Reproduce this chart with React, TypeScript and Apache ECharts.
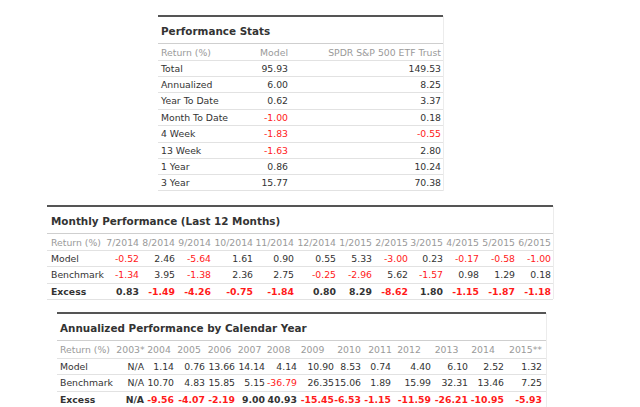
import React, { useEffect, useRef } from "react";
import * as echarts from "echarts";

// ---------- Data ----------
const statsTitle = "Performance Stats";
const statsHeader = ["Return (%)", "Model", "SPDR S&P 500 ETF Trust"];
const statsLabels = ["Total", "Annualized", "Year To Date", "Month To Date", "4 Week", "13 Week", "1 Year", "3 Year"];
const statsModel = [95.93, 6.0, 0.62, -1.0, -1.83, -1.63, 0.86, 15.77];
const statsSpdr = [149.53, 8.25, 3.37, 0.18, -0.55, 2.8, 10.24, 70.38];

const monthTitle = "Monthly Performance (Last 12 Months)";
const monthLabels = ["7/2014", "8/2014", "9/2014", "10/2014", "11/2014", "12/2014", "1/2015", "2/2015", "3/2015", "4/2015", "5/2015", "6/2015"];
const monthModel = [-0.52, 2.46, -5.64, 1.61, 0.9, 0.55, 5.33, -3.0, 0.23, -0.17, -0.58, -1.0];
const monthBench = [-1.34, 3.95, -1.38, 2.36, 2.75, -0.25, -2.96, 5.62, -1.57, 0.98, 1.29, 0.18];
const monthExcess = [0.83, -1.49, -4.26, -0.75, -1.84, 0.8, 8.29, -8.62, 1.8, -1.15, -1.87, -1.18];

const yearTitle = "Annualized Performance by Calendar Year";
const yearLabels = ["2003*", "2004", "2005", "2006", "2007", "2008", "2009", "2010", "2011", "2012", "2013", "2014", "2015**"];
const yearModel: (number | null)[] = [null, 1.14, 0.76, 13.66, 14.14, 4.14, 10.9, 8.53, 0.74, 4.4, 6.1, 2.52, 1.32];
const yearBench: (number | null)[] = [null, 10.7, 4.83, 15.85, 5.15, -36.79, 26.35, 15.06, 1.89, 15.99, 32.31, 13.46, 7.25];
const yearExcess: (number | null)[] = [null, -9.56, -4.07, -2.19, 9.0, 40.93, -15.45, -6.53, -1.15, -11.59, -26.21, -10.95, -5.93];

const rowNames = ["Model", "Benchmark", "Excess"];

// ---------- Styles ----------
const FONT = '"DejaVu Sans", Verdana, sans-serif';
const FS = 9.3;
const TITLE_FS = 10.4;
const DARK = "#333333";
const GRAY = "#9a9a9a";
const RED = "#ff1a1a";
const SEP = "#e2e2e2";
const TITLE_SEP = "#cfcfcf";
const TOP = "#555555";

function fmt(v: number | null) {
  return v === null ? "N/A" : v.toFixed(2);
}
function col(v: number | null) {
  return v !== null && v < 0 ? RED : DARK;
}

function text(x: number, y: number, s: string, opts: any = {}) {
  const size = opts.size ?? FS;
  const weight = opts.bold ? "bold" : "normal";
  const align = opts.align ?? "left";
  return {
    type: "text",
    x,
    y,
    silent: true,
    style: {
      text: s,
      fill: opts.fill ?? DARK,
      font: `${weight} ${size}px ${FONT}`,
      fontSize: size,
      fontWeight: weight,
      fontFamily: FONT,
      align,
      textAlign: align,
      verticalAlign: "middle",
      textVerticalAlign: "middle",
    },
  };
}
function hline(x1: number, x2: number, y: number, stroke: string, w = 1) {
  return {
    type: "line",
    silent: true,
    shape: { x1, y1: y, x2, y2: y },
    style: { stroke, lineWidth: w },
  };
}
function vline(x: number, y1: number, y2: number, stroke: string) {
  return {
    type: "line",
    silent: true,
    shape: { x1: x, y1, x2: x, y2 },
    style: { stroke, lineWidth: 1 },
  };
}
function topBorder(x1: number, x2: number, y: number) {
  return {
    type: "rect",
    silent: true,
    shape: { x: x1, y: y - 1, width: x2 - x1, height: 2 },
    style: { fill: TOP },
  };
}

function buildGraphics() {
  const g: any[] = [];

  // ----- Table 1 -----
  {
    const L = 158, R = 443, top = 16;
    const labelX = 161, modelR = 288, spdrR = 441;
    g.push(topBorder(L, R, top));
    g.push(vline(R + 0.5, top, 191, "#ececec"));
    g.push(text(labelX, 31, statsTitle, { bold: true, size: TITLE_FS }));
    g.push(hline(L, R, 43.5, TITLE_SEP));
    g.push(text(labelX, 52.5, statsHeader[0], { fill: GRAY }));
    g.push(text(modelR, 52.5, statsHeader[1], { fill: GRAY, align: "right" }));
    g.push(text(spdrR, 52.5, statsHeader[2], { fill: GRAY, align: "right" }));
    const rh = 16.4;
    for (let i = 0; i < statsLabels.length; i++) {
      const y = 68 + i * rh;
      g.push(hline(L, R, Math.round(y - 8.5) + 0.5, SEP));
      g.push(text(labelX, y, statsLabels[i]));
      g.push(text(modelR, y, fmt(statsModel[i]), { fill: col(statsModel[i]), align: "right" }));
      g.push(text(spdrR, y, fmt(statsSpdr[i]), { fill: col(statsSpdr[i]), align: "right" }));
    }
    g.push(hline(L, R, 190.5, SEP));
  }

  // ----- Table 2 -----
  {
    const L = 47, R = 553, top = 206;
    const labelX = 51;
    const colR = [139, 175, 211, 253, 294, 336, 372, 408, 443, 479, 515, 551];
    g.push(topBorder(L, R, top));
    g.push(vline(R + 0.5, top, 299, "#ececec"));
    g.push(text(labelX, 221, monthTitle, { bold: true, size: TITLE_FS }));
    g.push(hline(L, R, 233.5, TITLE_SEP));
    g.push(text(labelX, 242, "Return (%)", { fill: GRAY }));
    monthLabels.forEach((m, i) => g.push(text(colR[i], 242, m, { fill: GRAY, align: "right" })));
    const rows = [monthModel, monthBench, monthExcess];
    const ys = [258, 274.5, 291];
    rows.forEach((vals, r) => {
      const y = ys[r];
      const bold = r === 2;
      g.push(hline(L, R, Math.round(y - 8.5) + 0.5, SEP));
      g.push(text(labelX, y, rowNames[r], { bold }));
      vals.forEach((v, i) => g.push(text(colR[i], y, fmt(v), { fill: col(v), align: "right", bold })));
    });
    g.push(hline(L, R, 299.5, SEP));
  }

  // ----- Table 3 -----
  {
    const L = 57, R = 546, top = 313;
    const labelX = 60;
    const colR = [144, 174, 205, 235, 265, 297, 334, 361, 391, 431, 468, 504, 542];
    const headC = [130.5, 159, 189, 219.5, 249.5, 278.5, 312.5, 349, 380, 409, 446.5, 483, 525.5];
    g.push(topBorder(L, R, top));
    g.push(vline(R + 0.5, top, 407, "#ececec"));
    g.push(text(labelX, 328, yearTitle, { bold: true, size: TITLE_FS }));
    g.push(hline(L, R, 340.5, TITLE_SEP));
    g.push(text(labelX, 349.5, "Return (%)", { fill: GRAY }));
    yearLabels.forEach((m, i) => g.push(text(headC[i], 349.5, m, { fill: GRAY, align: "center" })));
    const rows = [yearModel, yearBench, yearExcess];
    const ys = [366, 382.5, 399];
    rows.forEach((vals, r) => {
      const y = ys[r];
      const bold = r === 2;
      g.push(hline(L, R, Math.round(y - 8.5) + 0.5, SEP));
      g.push(text(labelX, y, rowNames[r], { bold }));
      vals.forEach((v, i) => g.push(text(colR[i], y, fmt(v), { fill: col(v), align: "right", bold })));
    });
  }

  return g;
}

export default function App() {
  const ref = useRef<HTMLDivElement>(null);
  useEffect(() => {
    if (!ref.current) return;
    const chart = echarts.init(ref.current, null, { renderer: "svg" });
    chart.setOption({
      animation: false,
      backgroundColor: "#ffffff",
      graphic: { elements: buildGraphics() },
    });
    return () => chart.dispose();
  }, []);
  return (
    <div
      ref={ref}
      style={{ position: "fixed", left: 0, top: 0, width: 640, height: 407, background: "#fff" }}
    />
  );
}
